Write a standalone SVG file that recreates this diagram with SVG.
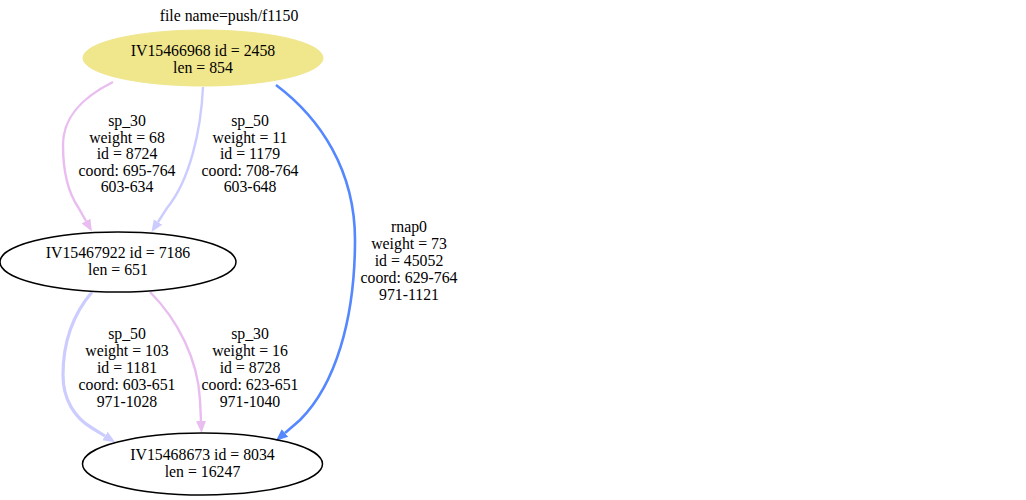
<svg xmlns="http://www.w3.org/2000/svg" width="1026" height="500" viewBox="0 0 1026 500">
<style>
text{font-family:"Liberation Serif","Times New Roman",serif;font-size:15.8px;fill:#000;text-anchor:middle}
.e{fill:none;stroke-width:2.4}
.pink{stroke:#e9bdf0}
.lav{stroke:#ccccff}
.blue{stroke:#5588ff;stroke-width:2.6}
.node{stroke:#000;stroke-width:1.5}
</style>
<defs>
<marker id="ap" markerUnits="userSpaceOnUse" viewBox="0 -6 12 12" refX="0" refY="0" markerWidth="12" markerHeight="12" orient="auto"><path d="M0,-5L12,0L0,5z" fill="#e9bdf0"/></marker>
<marker id="al" markerUnits="userSpaceOnUse" viewBox="0 -6 12 12" refX="0" refY="0" markerWidth="12" markerHeight="12" orient="auto"><path d="M0,-5L12,0L0,5z" fill="#ccccff"/></marker>
<marker id="ab" markerUnits="userSpaceOnUse" viewBox="0 -6 12 12" refX="0" refY="0" markerWidth="12" markerHeight="12" orient="auto"><path d="M0,-5L12,0L0,5z" fill="#5588ff"/></marker>
</defs>
<rect width="1026" height="500" fill="#fff"/>
<text x="229" y="21">file name=push/f1150</text>
<g id="connectors">
<path class="e pink" d="M113,82 C85,96 63,115 63,145 C63,175 70,195 78,207 L86,221" marker-end="url(#ap)"/>
<path class="e lav" d="M203,87 C201,130 190,180 167,208 L158,222" marker-end="url(#al)"/>
<path class="e blue" d="M276,85 C320,118 355,170 355,240 C355,320 335,385 300,420 L285,433" marker-end="url(#ab)"/>
<path class="e lav" style="stroke-width:3.2" d="M92,292 C75,312 63,340 63,375 C63,400 75,418 92,428 L105,436" marker-end="url(#al)"/>
<path class="e pink" d="M150,292 C178,320 198,360 200,400 L201,421" marker-end="url(#ap)"/>
<text x="127" y="126">sp_30</text>
<text x="127" y="142.5">weight = 68</text>
<text x="127" y="159">id = 8724</text>
<text x="127" y="175.5">coord: 695-764</text>
<text x="127" y="192">603-634</text>
<text x="250" y="126">sp_50</text>
<text x="250" y="142.5">weight = 11</text>
<text x="250" y="159">id = 1179</text>
<text x="250" y="175.5">coord: 708-764</text>
<text x="250" y="192">603-648</text>
<text x="409" y="232">rnap0</text>
<text x="409" y="249">weight = 73</text>
<text x="409" y="266">id = 45052</text>
<text x="409" y="283">coord: 629-764</text>
<text x="409" y="300">971-1121</text>
<text x="127" y="339">sp_50</text>
<text x="127" y="356">weight = 103</text>
<text x="127" y="373">id = 1181</text>
<text x="127" y="390">coord: 603-651</text>
<text x="127" y="407">971-1028</text>
<text x="250" y="339">sp_30</text>
<text x="250" y="356">weight = 16</text>
<text x="250" y="373">id = 8728</text>
<text x="250" y="390">coord: 623-651</text>
<text x="250" y="407">971-1040</text>
</g>
<g id="n1">
<ellipse cx="203" cy="58" rx="120" ry="28" fill="#f0e68c" stroke="#f0e68c"/>
<text x="203" y="56">IV15466968 id = 2458</text>
<text x="203" y="73">len = 854</text>
</g>
<g id="n2">
<ellipse class="node" cx="118" cy="262" rx="118" ry="30" fill="none"/>
<text x="118" y="258">IV15467922 id = 7186</text>
<text x="118" y="275">len = 651</text>
</g>
<g id="n3">
<ellipse class="node" cx="202.5" cy="464" rx="120" ry="31" fill="none"/>
<text x="202.5" y="460">IV15468673 id = 8034</text>
<text x="202.5" y="477">len = 16247</text>
</g>
</svg>
